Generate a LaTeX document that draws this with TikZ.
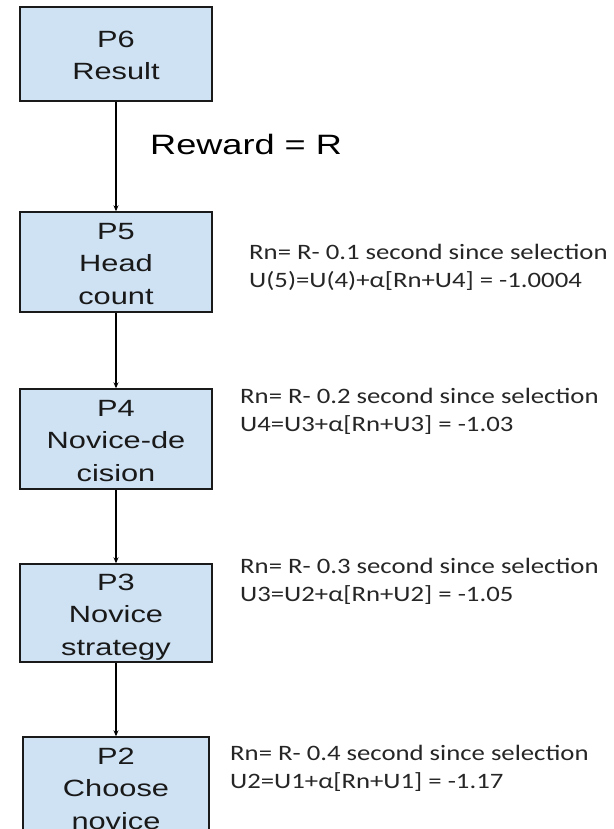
\documentclass[tikz,border=0pt]{standalone}
\usepackage{fontspec}
\setmainfont{Liberation Sans}
\newfontfamily\notefont{Carlito}
\usetikzlibrary{arrows.meta}
\definecolor{boxfill}{HTML}{CFE2F3}
\definecolor{boxline}{HTML}{1A1A1A}
% horizontally widened text lines, set a little below the box centre
\newcommand\boxlines[1]{\raisebox{-3pt}[\height][\depth]{\scalebox{1.31}[1]{\begin{tabular}{@{}c@{}}#1\end{tabular}}}}
\newcommand\notelines[1]{\scalebox{1.215}[1]{\begin{tabular}[t]{@{}l@{}}#1\end{tabular}}}
\tikzset{
  stagebox/.style={draw=boxline, fill=boxfill, line width=1.4pt, inner sep=0pt,
    minimum width=192pt, font=\fontsize{23.5}{32.5}\selectfont, text=black!90},
  flow/.style={draw=black, line width=1.2pt, -{Stealth[length=6pt,width=5pt]}},
  note/.style={anchor=base west, inner sep=0pt, text=black!85,
    font=\notefont\fontsize{22}{28.8}\selectfont},
}
\begin{document}
\begin{tikzpicture}[x=1pt, y=-1pt]
  \useasboundingbox (0,0) rectangle (613,829);
  \clip (0,0) rectangle (613,829);
  \fill[white] (0,0) rectangle (613,829);

  % stages
  \node[stagebox, minimum height=94pt]  (p6) at (116,54)  {\boxlines{P6\\Result}};
  \node[stagebox, minimum height=100pt] (p5) at (116,262) {\boxlines{P5\\Head\\count}};
  \node[stagebox, minimum height=100pt] (p4) at (116,439) {\boxlines{P4\\Novice-de\\cision}};
  \node[stagebox, minimum height=98pt]  (p3) at (116,613) {\boxlines{P3\\Novice\\strategy}};
  \node[stagebox, minimum height=100pt, minimum width=186pt] (p2) at (116,787) {\boxlines{P2\\Choose\\novice}};

  % connectors
  \draw[flow] (p6) -- (p5);
  \draw[flow] (p5) -- (p4);
  \draw[flow] (p4) -- (p3);
  \draw[flow] (p3) -- (p2);

  % reward label
  \node[anchor=base west, inner sep=0pt, font=\fontsize{28}{32}\selectfont] (rw) at (150,155)
    {\scalebox{1.29}[1]{Reward = R}};

  % utility updates
  \node[note] (n5) at (249,259) {\notelines{Rn= R- 0.1 second since selection\\U(5)=U(4)+α[Rn+U4] = -1.0004}};
  \node[note] (n4) at (240,403) {\notelines{Rn= R- 0.2 second since selection\\U4=U3+α[Rn+U3] = -1.03}};
  \node[note] (n3) at (240,573) {\notelines{Rn= R- 0.3 second since selection\\U3=U2+α[Rn+U2] = -1.05}};
  \node[note] (n2) at (230,760) {\notelines{Rn= R- 0.4 second since selection\\U2=U1+α[Rn+U1] = -1.17}};
\end{tikzpicture}
\end{document}
